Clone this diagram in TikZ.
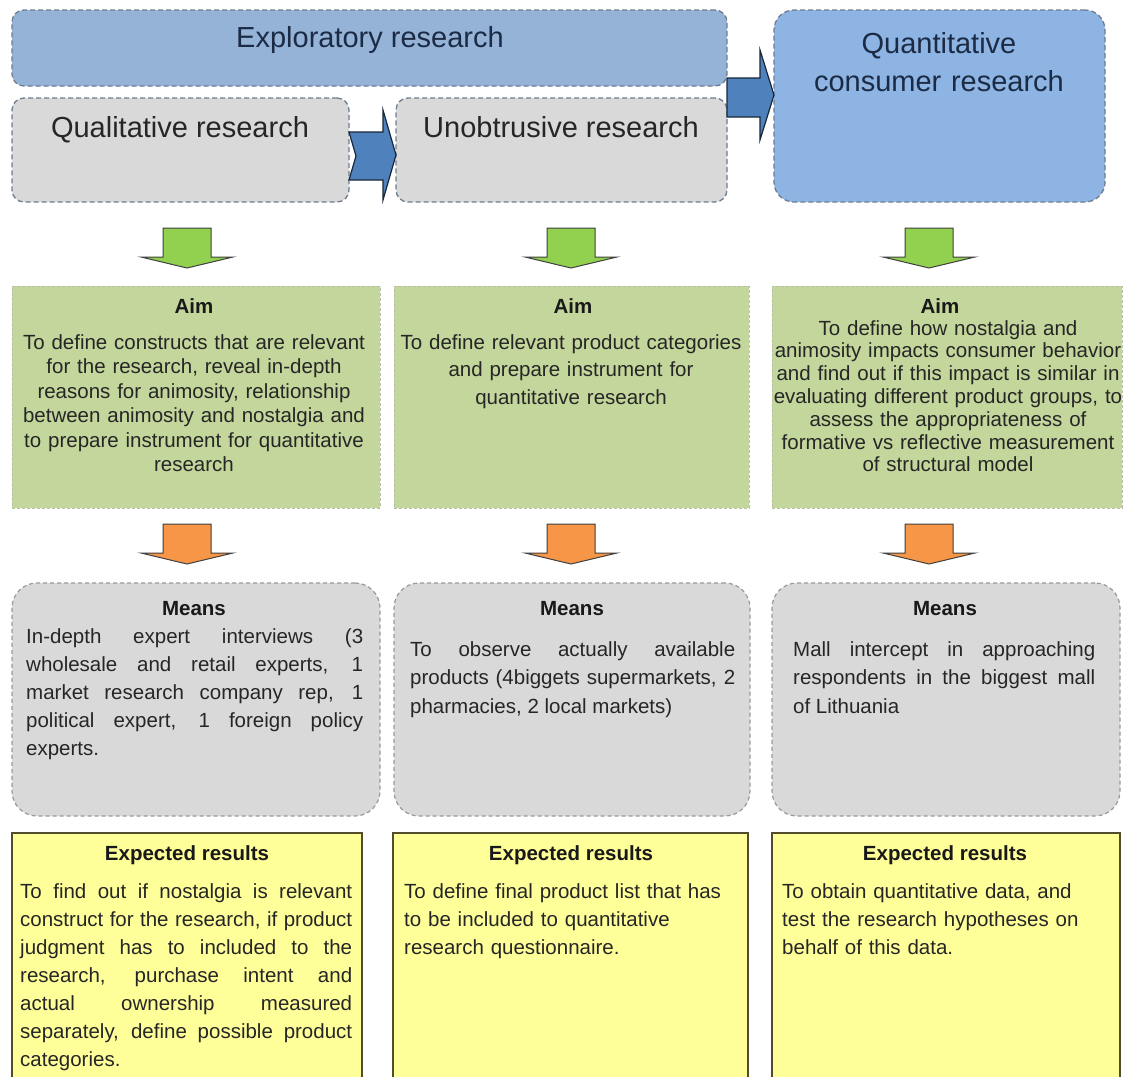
\documentclass[tikz,border=0pt]{standalone}
\usepackage{fontspec}
\setmainfont{Liberation Sans}
\definecolor{explblue}{HTML}{95B3D7}
\definecolor{quantblue}{HTML}{8DB4E2}
\definecolor{boxgray}{HTML}{D9D9D9}
\definecolor{aimgreen}{HTML}{C3D69B}
\definecolor{arrgreen}{HTML}{92D050}
\definecolor{arrorange}{HTML}{F79646}
\definecolor{resyellow}{HTML}{FFFF99}
\definecolor{arrblue}{HTML}{4F81BD}
\definecolor{dashgray}{HTML}{6E7D90}
\definecolor{txt}{HTML}{262626}
\definecolor{titletxt}{HTML}{1C2B45}
\begin{document}
\begin{tikzpicture}[x=1pt,y=-1pt,
  box/.style={anchor=north west, inner sep=0pt, outer sep=0pt},
  topbox/.style={box, draw=dashgray, line width=1.3pt, dash pattern=on 5pt off 3pt, rounded corners=12pt},
  aimbox/.style={box, fill=aimgreen, draw=aimgreen!70!black!60, line width=0.8pt, dash pattern=on 3pt off 2pt},
  meansbox/.style={box, fill=boxgray, draw=gray!80, line width=1.2pt, dash pattern=on 4pt off 3pt, rounded corners=25pt},
  resbox/.style={box, fill=resyellow, draw=black!55!olive, line width=1.5pt},
  title/.style={inner sep=0pt, anchor=base, font=\fontsize{29}{38}\selectfont, text=titletxt},
  graytitle/.style={title, text=txt},
  head/.style={inner sep=0pt, anchor=base, font=\fontsize{20.5}{24}\selectfont\bfseries, text=black!90},
  body/.style={inner sep=0pt, text=txt},
  blockarrow/.style={fill=arrblue, draw=black!70!arrblue, line width=1.2pt, line join=miter},
  greenarrow/.style={fill=arrgreen, draw=black!75, line width=1pt},
  orangearrow/.style={fill=arrorange, draw=black!75, line width=1pt},
  downarr/.pic={
    \path[pic actions] (-24,0) -- (24,0) -- (24,29) -- (46,29) -- (0,40)
      -- (-46,29) -- (-24,29) -- cycle;
  }
]
\clip (0,0) rectangle (1128,1077);
\fill[white] (0,0) rectangle (1128,1077);

% ---------- top row: research stages ----------
\node[topbox, fill=explblue, minimum width=715pt, minimum height=76pt] (expl) at (12,10) {};
\node[topbox, fill=boxgray, minimum width=337pt, minimum height=104pt] (qual) at (12,98) {};
\node[topbox, fill=boxgray, minimum width=331pt, minimum height=104pt] (unob) at (396,98) {};
\node[topbox, fill=quantblue, minimum width=331pt, minimum height=192pt, rounded corners=20pt] (quant) at (774,10) {};

\node[title] (explt) at (370,47) {Exploratory research};
\node[graytitle] (qualt) at (180,137) {Qualitative research};
\node[graytitle] (unobt) at (561,137) {Unobtrusive research};
\node[title, align=center, text width=330pt] (quantt) at (939,53) {Quantitative\\consumer research};

% block arrows between the stages
\draw[blockarrow] (qual.east |- 0,132) -- (383,132) -- (383,110) -- (unob.west |- 0,155)
  -- (383,200) -- (383,180) -- (qual.east |- 0,180) -- (356,156) -- cycle;
\draw[blockarrow] (expl.east |- 0,78) -- (760,78) -- (760,50) -- (quant.west |- 0,95)
  -- (760,140) -- (760,117) -- (expl.east |- 0,117) -- cycle;

% ---------- aim row ----------
\pic[greenarrow] at (187,228) {downarr};
\pic[greenarrow] at (571,228) {downarr};
\pic[greenarrow] at (929,228) {downarr};

\node[aimbox, minimum width=368pt, minimum height=222pt] (aim1) at (12,286) {};
\node[aimbox, minimum width=355pt, minimum height=222pt] (aim2) at (394,286) {};
\node[aimbox, minimum width=350pt, minimum height=222pt] (aim3) at (772,286) {};

\node[head] (aim1h) at (194,313) {Aim};
\node[head] (aim2h) at (573,313) {Aim};
\node[head] (aim3h) at (940,313) {Aim};

\node[body, anchor=base, align=center, text width=366pt, font=\fontsize{20.5}{24.5}\selectfont] (aim1t) at (194,349)
  {To define constructs that are relevant\\for the research, reveal in-depth\\reasons for animosity, relationship\\between animosity and nostalgia and\\to prepare instrument for quantitative\\research};
\node[body, anchor=base, align=center, text width=353pt, font=\fontsize{20.5}{27.5}\selectfont] (aim2t) at (571,349)
  {To define relevant product categories\\and prepare instrument for\\quantitative research};
\node[body, anchor=base, align=center, text width=350pt, font=\fontsize{20.5}{22.8}\selectfont] (aim3t) at (948,335)
  {To define how nostalgia and\\animosity impacts consumer behavior\\and find out if this impact is similar in\\evaluating different product groups, to\\assess the appropriateness of\\formative vs reflective measurement\\of structural model};

% ---------- means row ----------
\pic[orangearrow] at (187,524) {downarr};
\pic[orangearrow] at (571,524) {downarr};
\pic[orangearrow] at (929,524) {downarr};

\node[meansbox, minimum width=368pt, minimum height=233pt] (means1) at (12,583) {};
\node[meansbox, minimum width=356pt, minimum height=233pt] (means2) at (394,583) {};
\node[meansbox, minimum width=348pt, minimum height=233pt] (means3) at (772,583) {};

\node[head] (means1h) at (194,615) {Means};
\node[head] (means2h) at (572,615) {Means};
\node[head] (means3h) at (945,615) {Means};

\node[body, anchor=base west, align=justify, text width=337pt, font=\fontsize{20.5}{28.2}\selectfont] (means1t) at (26,643)
  {In-depth expert interviews (3\linebreak wholesale and retail experts, 1\linebreak market research company rep, 1\linebreak political expert, 1 foreign policy\linebreak experts.};
\node[body, anchor=base west, align=justify, text width=325pt, font=\fontsize{20.5}{28.5}\selectfont] (means2t) at (410,656)
  {To observe actually available\linebreak products (4biggets supermarkets, 2\linebreak pharmacies, 2 local markets)};
\node[body, anchor=base west, align=justify, text width=302pt, font=\fontsize{20.5}{28.5}\selectfont] (means3t) at (793,656)
  {Mall intercept in approaching\linebreak respondents in the biggest mall\linebreak of Lithuania};

% ---------- expected results row ----------
\node[resbox, minimum width=350pt, minimum height=260pt] (res1) at (12,833) {};
\node[resbox, minimum width=355pt, minimum height=260pt] (res2) at (393,833) {};
\node[resbox, minimum width=348pt, minimum height=260pt] (res3) at (772,833) {};

\node[head] (res1h) at (187,860) {Expected results};
\node[head] (res2h) at (571,860) {Expected results};
\node[head] (res3h) at (945,860) {Expected results};

\node[body, anchor=base west, align=justify, text width=332pt, font=\fontsize{20.5}{28}\selectfont] (res1t) at (20,898)
  {To find out if nostalgia is relevant\linebreak construct for the research, if product\linebreak judgment has to included to the\linebreak research, purchase intent and\linebreak actual ownership measured\linebreak separately, define possible product\linebreak categories.};
\node[body, anchor=base west, align=left, text width=335pt, font=\fontsize{20.5}{28}\selectfont] (res2t) at (404,898)
  {To define final product list that has\\to be included to quantitative\\research questionnaire.};
\node[body, anchor=base west, align=left, text width=335pt, font=\fontsize{20.5}{28}\selectfont] (res3t) at (782,898)
  {To obtain quantitative data, and\\test the research hypotheses on\\behalf of this data.};
\end{tikzpicture}
\end{document}
